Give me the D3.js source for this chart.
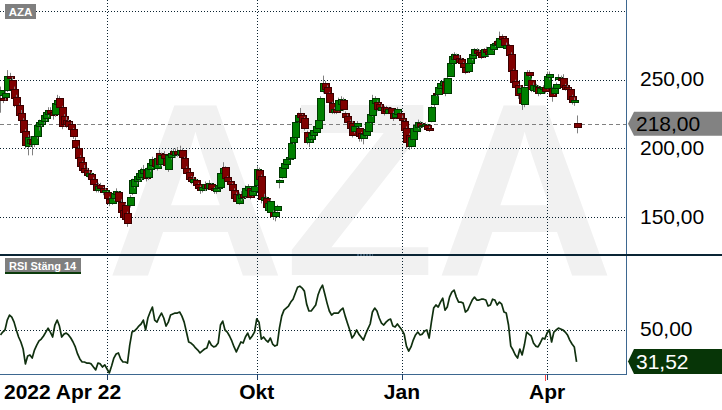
<!DOCTYPE html>
<html><head><meta charset="utf-8">
<script src="https://cdn.jsdelivr.net/npm/d3@7"></script>
<style>body{margin:0;background:#fff}svg{display:block}</style>
</head><body><svg id="c" width="722" height="410"></svg>
<script>
// ---- data ----
const openP = [239,236.5,237.7,242.8,253,250,243.5,237.7,231.9,226,
220.9,213,202,204,207,203.5,209,216,218,220,
222,225,228,226.5,225,232,237,230,223.5,221,
220,218,214,206.5,200,194,190,186,184,180,
181.5,178,174,170,173.5,171,168,168,163.5,160.5,
164,167,168,161,155,159,153,159,167.5,173,
176,178,179,182,184.5,179,185,188,192,186,
197,189,196,193,185,194,198,195,198.5,196,
199,193,186,183,179,175.5,177,174,172,170,
171,174,171,174.5,171,169,171,172,182,186.5,
179,176.5,174,170,167,160,164,167,165.5,170,
171.5,166,169,173.5,184,180,162.6,164,155.5,154,
154,151,155,175.5,179.5,186,189,192,193,205,
208,220,226,224,222,212,205,207,210,212,
215,221,242,247.5,245,240.5,233,226.5,229,228,
232,235.5,226,223.5,220,218.5,213,216,215,211,
207.5,210,213,219,224,233,234,232,228,230,
230,226,229.5,226,223,225,226,222,220,215,
210,202,207,213,215.5,218.5,216,216,217,215,
220,232,240.5,239.5,244,246,248,240.5,253,262,
265,268,266,265,262,259,256,262,265.5,268,
271.5,270.5,270,267,272.5,271,269,272,275,278,
274,282,280,273.4,275,269,257,249,246,240,
240,232,246.5,255.5,250,242.5,242,245,240.5,243,
245,244,252,244.3,240.5,244,250.5,251.5,251.6,246,
245,243,238.5,234,218.4];
const highP = [245,240,242,257,255,252,245,239,233,228,
222,214,210,209,209,211,219,221,223,226,
228,230,230,228,235,239,238,231,225,223,
221,219,215,208,202,195,191,188,186,184,
183,179,175,175,175,172,171,169,165,166,
169,171,169,163,157,160,154,166,178,179,
182,184,186,188,186,188,191,194,193,195,
199,197,198,194,196,199,200,200,201,202,
200,194,187,184,180,180,178,175,173,174,
176,175,177,175,172,172,175,183,190,187,
180,177,175,171,168,168,169,169,173,174,
172,172,174,187,186,181,167,165,162,163,
155,155,159,178,188,191,193,195,205,210,
221,226,229.5,225,223,213,210,212,215,218,
222,238,253,249,246,241,234,230,231,237,
238,237,227,225,221,220,218,220,216,212,
212,215,220,226,239,238,235,233,232,231,
231,230,230,227,228,230,227,224,221,216,
211,210,216,218,221,220,219,219,218,216,
231,240,242,246,249,251,249,253,263,269,
270,269,268,266,263,260,264,267,270,273,
273,272,271,273,274,272,275,277,278.5,279,
285,283,281,277,276,270,258,250,247,246,
241,246,257,257,251,248,247,246,245,246,
246,256,256,245,245,248,254,253,254,247,
246,244,239,237,224];
const lowP = [226,233,235,241,249,240,230,229,222,218,
210,200,195,201,195,201,207,213,216,218,
220,223,224,221,223,230,228,214,216,215,
214,212,207,199,191,185,182,181,179,178,
176,172,168,168,169,166,166,162,158,159,
162,165,160,152,148,147,143,157,166,171,
174,176,177,180,176,177,183,186,185,184,
187,187,191,186,183,192,194,193,194,194,
192,184,180,176,174,174,172,170,167,168,
169,170,170,169,167,167,170,171,181,177,
175,172,168,162,160,159,162,163,164,169,
163,165,168,172,176,160,161,156,154,153,
148,147,154,171,178,185,188,191,192,203,
207,219,221,218,213,203,201,205,208,211,
214,220,240,241,238,232,225,225,225,227,
230,227,221,218,213,208,211,214,205,205,
203,208,212,218,223,231,227,228,226,224,
225,225,224,220,222,224,220,219,212,200,
199,200,206,212,214,215,215,214,213,212,
219,230,238,238,243,245,238,240,252,261,
264,263,262,260,258,254,255,261,264,267,
268,267,265,266,269,267,268,271,274,275,
273,278,274,272,266,254,247,243,236,238,
228,230,245,252,241,241,240,238,239,242,
240,243,250,234,239,243,249,248,243,242,
241,234,232,231,211];
const closeP = [242.8,235.5,240.3,253,251.6,243,237,231.9,224.6,220.9,
212,202.7,208.5,207,203.5,209.3,217.3,219,221,224,
226.5,228,226,224,233,235.5,230,216,218,217.5,
216,214,209,201,193,187,184,183,181,182,
178,174,170,173,171,168,169.5,164,160,164,
167.7,169,162,154,150,149,145.5,164.5,177,177.5,
180,182,184,185,178.6,186,189.6,192.5,187,193,
189,195,193,188,195,197,196,198,196,199,
194,186,182,178,176.5,177.5,173.5,171.5,169.5,172,
174,171.5,175,170.5,169.5,171,173.5,182,186,178.5,
176.5,174,170,164,162,166.5,167,165,171,172.5,
165,170,172.5,185,178,163,165,157.5,160,162,
151,153.8,158,177,186.5,189.5,192,193.5,204,208.5,
219.5,224.5,223,219.5,215,205,208.5,211,213.5,216,
221,237,247.5,243,240,233.5,226.5,228.5,226.8,235,
236,229,223,219.5,215,210,216,218.5,209,207.5,
210.5,214,219,225,235,236.5,228.5,229.7,230,226,
227,229,226,222,226,229,222,221,213.5,204.5,
202,208.5,215,217,219.5,216.5,217.3,218,214,213.5,
230,239,239.5,245,247.9,249,240,251.6,262,267.5,
268.5,265,263,262,259.5,255.5,262.5,266,268.5,272,
269.5,268,266.5,272,270,268.5,273.5,276,277,276,
280.5,279.5,275.5,275.6,268,256,248.6,245,239.2,244.3,
233,245,255.5,253.5,243,246.5,245.5,240.5,244,245,
242,253,254,238.5,244,247,252,250,244.8,243.5,
243,236,234,235.5,215.8];
const rsi = [47.3,49,50.2,56,58.9,57.7,54.8,50.2,46.1,43.2,
39.1,30.4,35,35.6,33.8,38.5,41.4,43.8,44.9,46.7,
49,51.3,49,46.1,53.1,56,52.5,46.1,47.8,48.4,
47.3,45.5,43.2,40.3,36.2,33.3,31.5,31.5,30.9,30.9,
30.4,28.6,26.9,30.9,30.4,28.6,29.8,27.4,25.1,29.2,
33.8,36.2,36.8,33.3,31.5,31.5,30.9,41.4,49,49.6,
50.8,52.5,53.7,56,50.2,57.2,60.7,63.6,56,54.8,
57.7,60.1,57.2,52.5,54.8,58.9,59.5,60.1,60.1,60.7,
58.3,54.8,49,43.2,42.6,41.4,39.7,38.5,36.8,38,
39.1,39.7,43.8,41.4,40.3,40.8,42.6,53.1,55.4,50.2,
49,46.7,43.8,40.3,37.4,40.3,43.2,42.6,46.1,48.4,
44.9,46.7,49,56.7,54.8,44.9,46.1,44.3,43.2,45.5,
42,40.8,41.4,51.3,58.3,61.8,63,64.2,66.5,68.2,
71.7,75.2,75.8,74.7,72.9,65.3,61.3,61.3,63,64.8,
70.6,74.1,76.4,71.2,65.9,61.3,58.9,60.1,60.1,60.1,
61.8,63,58.3,54.2,50.2,45.5,47.3,50.2,47.8,46.1,
44.3,47.8,50.8,53.7,60.7,63,61.3,57.2,54.2,53.1,
54.8,56,56.6,52.5,51.9,53.7,51.9,50.2,47.8,40.8,
37.9,40.3,44.3,47.3,49,47.3,47.8,49.6,50.2,45.5,
54.8,63,64.8,63.6,66.5,68.8,61.8,63.6,69.4,72.3,
73.5,69.4,66.5,66.5,65.9,60.7,61.8,64.8,67.7,69.4,
67.7,67.7,68.2,68.2,67.7,64.2,64.8,68.2,67.7,64.8,
66.5,65.3,60.7,60.1,53.1,40.8,38.5,35.6,33.8,39.1,
35.6,41.4,49,47.8,46.7,42.6,40.8,40.3,42.6,45.5,
44.9,48.4,50.2,43.2,49,50.2,51.3,50.8,50.2,49,
47.3,44.3,42,40.3,31.52];
const priceTicks = [300, 250, 200, 150];
const priceTickLabels = ["", "250,00", "200,00", "150,00"];
const rsiTicks = [50];
const rsiTickLabels = ["50,00"];
const monthNames = ["Jan","Feb","Mar","Apr","Maj","Jun","Jul","Aug","Sep","Okt","Nov","Dec"];
const tickMonths = [0, 3, 6, 9];
const startDate = "2022-04-22";
const startLabel = "2022 Apr 22";
const holidays = ["2022-05-26","2022-06-06","2022-06-24","2022-12-26","2023-01-06","2023-04-07","2023-04-10"];
const lastPrice = 218.00, lastPriceLabel = "218,00";
const lastRsiLabel = "31,52";
const ticker = "AZA", rsiTitle = "RSI Stäng 14";

// ---- trading dates ----
const dates = [];
{
  let d = new Date(startDate + "T12:00:00");
  while (dates.length < closeP.length) {
    const iso = d.toISOString().slice(0,10);
    const wd = d.getDay();
    if (wd !== 0 && wd !== 6 && !holidays.includes(iso)) dates.push(new Date(d));
    d.setDate(d.getDate() + 1);
  }
}
const data = closeP.map((c,i)=>({i, date:dates[i], o:openP[i], h:highP[i], l:lowP[i], c, r:rsi[i]}));

// ---- layout ----
const W = 722, H = 410, plotR = 626;
const mainTop = 0, mainBot = 255, rsiTop = 255, rsiBot = 374;
const svg = d3.select("#c");
const x = d3.scaleLinear().domain([-0.2, 275.8]).range([0, plotR]);
const y = d3.scaleLinear().domain([122.5, 308]).range([mainBot, mainTop]);
const yr = d3.scaleLinear().domain([24.5, 94]).range([rsiBot, rsiTop]);

// month ticks
const ticks = [];
data.forEach((d,i)=>{
  if (i>0 && d.date.getMonth() !== data[i-1].date.getMonth() && tickMonths.includes(d.date.getMonth()))
    ticks.push({i, label: monthNames[d.date.getMonth()]});
});

// watermark
svg.append("text").attr("x", 360).attr("y", 275).attr("text-anchor","middle")
  .attr("font-family","Liberation Sans, Arial, sans-serif").attr("font-weight","bold")
  .attr("font-size", 247).attr("fill","#f1f1f1").text(ticker);

const dotCol = "#0b2230";
svg.append("g").selectAll("line").data(priceTicks).join("line")
  .attr("x1",0).attr("x2",plotR)
  .attr("y1",d=>Math.round(y(d))+0.5).attr("y2",d=>Math.round(y(d))+0.5)
  .attr("stroke",dotCol).attr("stroke-dasharray","1,2");
svg.append("g").selectAll("line").data(rsiTicks).join("line")
  .attr("x1",0).attr("x2",plotR)
  .attr("y1",d=>Math.round(yr(d))+0.5).attr("y2",d=>Math.round(yr(d))+0.5)
  .attr("stroke",dotCol).attr("stroke-dasharray","1,2");
svg.append("g").selectAll("line").data(ticks).join("line")
  .attr("x1",d=>Math.round(x(d.i))+0.5).attr("x2",d=>Math.round(x(d.i))+0.5)
  .attr("y1",0).attr("y2",rsiBot)
  .attr("stroke",dotCol).attr("stroke-dasharray","1,2");

// last price dashed line
svg.append("line").attr("x1",0).attr("x2",plotR)
  .attr("y1",Math.round(y(lastPrice))+0.5).attr("y2",Math.round(y(lastPrice))+0.5)
  .attr("stroke","#808080").attr("stroke-dasharray","4,3");

// candles
const cg = svg.append("g");
data.forEach(d=>{
  const cx = Math.round(x(d.i));
  const up = d.c >= d.o;
  cg.append("line").attr("x1",cx+0.5).attr("x2",cx+0.5)
    .attr("y1",y(d.h)).attr("y2",y(d.l)).attr("stroke","#808080").attr("stroke-width",1);
  const yt = Math.round(y(Math.max(d.o,d.c))), yb = Math.round(y(Math.min(d.o,d.c)));
  cg.append("rect").attr("x",cx-2.5).attr("y",yt+0.5)
    .attr("width",7).attr("height",Math.max(1,yb-yt))
    .attr("fill", up ? "#008000" : "#800000")
    .attr("stroke", up ? "#003800" : "#3c0000").attr("stroke-width",1);
});

// RSI line
svg.append("path").datum(data)
  .attr("d", d3.line().x(d=>x(d.i)).y(d=>yr(d.r)))
  .attr("fill","none").attr("stroke","#10300f").attr("stroke-width",1.7)
  .attr("stroke-linejoin","round");

// frame lines
const axCol = "#3d6790";
svg.append("line").attr("x1",plotR+0.5).attr("x2",plotR+0.5).attr("y1",0).attr("y2",rsiBot+0.5)
  .attr("stroke",axCol);
svg.append("line").attr("x1",0).attr("x2",plotR+1).attr("y1",rsiBot+0.5).attr("y2",rsiBot+0.5)
  .attr("stroke",axCol);
svg.append("g").selectAll("line").data(ticks).join("line")
  .attr("x1",d=>Math.round(x(d.i))+0.5).attr("x2",d=>Math.round(x(d.i))+0.5)
  .attr("y1",rsiBot).attr("y2",rsiBot+6).attr("stroke","#1d3f66");
svg.append("line").attr("x1",Math.round(x(240))+0.5).attr("x2",Math.round(x(240))+0.5)
  .attr("y1",rsiBot+1).attr("y2",rsiBot+7).attr("stroke","#ff4040").attr("stroke-width",1);
svg.append("rect").attr("x",0).attr("y",mainBot-1).attr("width",W).attr("height",2).attr("fill","#0a2535");
svg.append("line").attr("x1",357).attr("x2",373).attr("y1",mainBot).attr("y2",mainBot)
  .attr("stroke","#6a8fb0").attr("stroke-dasharray","2,1");

// axis labels
const font = "Liberation Sans, Arial, sans-serif";
svg.append("g").selectAll("text").data(priceTicks.map((t,k)=>({t,l:priceTickLabels[k]})).filter(d=>d.l))
  .join("text").attr("x",640).attr("y",d=>y(d.t)+6.5)
  .attr("font-family",font).attr("font-size",21).attr("fill","#000").text(d=>d.l);
svg.append("g").selectAll("text").data(rsiTicks.map((t,k)=>({t,l:rsiTickLabels[k]})))
  .join("text").attr("x",640).attr("y",d=>yr(d.t)+6)
  .attr("font-family",font).attr("font-size",21).attr("fill","#000").text(d=>d.l);

svg.append("text").attr("x",4).attr("y",399).attr("font-family",font).attr("font-weight","bold")
  .attr("font-size",21).attr("fill","#000").text(startLabel);
svg.append("g").selectAll("text").data(ticks.filter(d=>x(d.i)>140)).join("text")
  .attr("x",d=>x(d.i)).attr("y",399).attr("text-anchor","middle")
  .attr("font-family",font).attr("font-weight","bold").attr("font-size",21).attr("fill","#000")
  .text(d=>d.label);

function badge(yc, h, fill, txt, tcol){
  const t = yc - h/2, b = yc + h/2;
  svg.append("path").attr("d",`M${plotR+2},${yc} L${plotR+8},${t} L${W},${t} L${W},${b} L${plotR+8},${b} Z`).attr("fill",fill);
  svg.append("text").attr("x",636).attr("y",yc+7.5).attr("font-family",font).attr("font-size",21)
    .attr("fill",tcol).text(txt);
}
badge(y(lastPrice), 24, "#828282", lastPriceLabel, "#000");
badge(yr(rsi[rsi.length-1]) - 0.5, 25, "#073507", lastRsiLabel, "#fff");

svg.append("rect").attr("x",5).attr("y",4).attr("width",31).attr("height",15).attr("fill","#7f7f7f");
svg.append("text").attr("x",20.5).attr("y",16).attr("text-anchor","middle").attr("font-family",font)
  .attr("font-weight","bold").attr("font-size",11.5).attr("fill","#fff").text(ticker);
svg.append("rect").attr("x",5).attr("y",258).attr("width",76).attr("height",14).attr("fill","#7f7f7f");
svg.append("rect").attr("x",5).attr("y",272).attr("width",76).attr("height",2).attr("fill","#0b3b0b");
svg.append("text").attr("x",9).attr("y",269.5).attr("font-family",font)
  .attr("font-weight","bold").attr("font-size",11).attr("fill","#fff").text(rsiTitle);
</script></body></html>
